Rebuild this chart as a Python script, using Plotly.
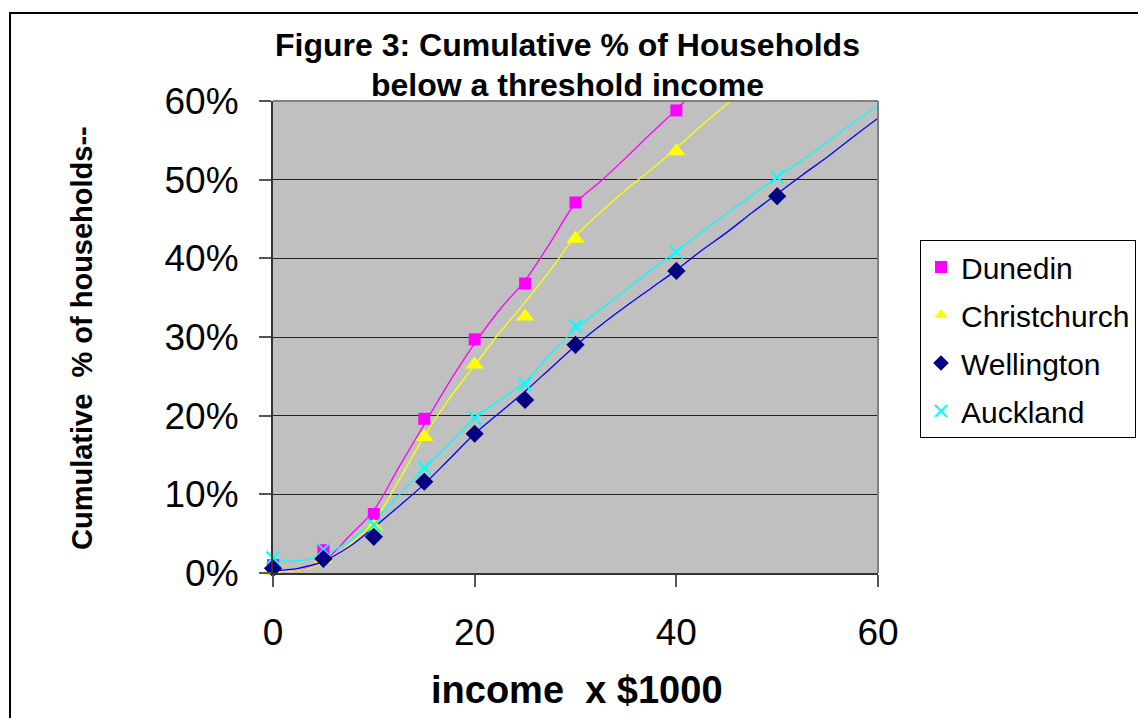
import plotly.graph_objects as go

# ---- survey points (income in $1000, cumulative % of households) ----
income_pts = [0, 5, 10, 15, 20, 25, 30, 40]
income_pts_long = [0, 5, 10, 15, 20, 25, 30, 40, 50]

dunedin_pts = [1.0, 2.9, 7.5, 19.6, 29.7, 36.8, 47.1, 58.8]
christchurch_pts = [0.3, 1.8, 5.9, 17.3, 26.5, 32.6, 42.5, 53.6]
wellington_pts = [0.6, 1.8, 4.6, 11.6, 17.7, 22.0, 29.0, 38.4, 47.9]
auckland_pts = [1.9, 3.0, 6.1, 13.4, 19.7, 24.0, 31.4, 40.8, 50.3]

# ---- smoothed distribution curves ----
dunedin_curve_x = [0, 2.5, 5, 7.5, 10, 12.5, 15, 17.5, 20, 22.5, 25, 27.5, 30,
                   32.5, 35, 37.5, 40, 41]
dunedin_curve_y = [0.2, 0.3, 1.5, 4.6, 8.0, 13.5, 18.9, 24.3, 29.2, 33.5, 37.2,
                   42.0, 47.0, 49.8, 52.8, 55.9, 58.9, 60.2]

christchurch_curve_x = [0, 2.5, 5, 7.5, 10, 12.5, 15, 17.5, 20, 22.5, 25, 27.5,
                        30, 32.5, 35, 37.5, 40, 42.5, 45.5]
christchurch_curve_y = [0.2, 0.3, 1.3, 3.5, 6.6, 11.8, 17.4, 22.2, 26.4, 30.6,
                        34.4, 38.5, 42.8, 45.9, 48.7, 51.3, 54.0, 56.9, 60.1]

wellington_curve_x = [0, 2.5, 5, 7.5, 10, 12.5, 15, 17.5, 20, 22.5, 25, 27.5, 30,
                      32.5, 35, 37.5, 40, 42.5, 45, 47.5, 50, 52.5, 55, 57.5, 60]
wellington_curve_y = [0.3, 0.6, 1.5, 3.3, 5.8, 8.5, 11.3, 14.5, 17.7, 20.4, 23.1,
                      26.0, 28.9, 31.5, 33.9, 36.2, 38.5, 41.0, 43.3, 45.8, 48.2,
                      50.6, 52.9, 55.4, 57.8]

auckland_curve_x = [0, 2, 5, 7.5, 10, 12.5, 15, 17.5, 20, 22.5, 25, 27.5, 30,
                    32.5, 35, 37.5, 40, 42.5, 45, 47.5, 50, 52.5, 55, 57.5, 60]
auckland_curve_y = [1.9, 1.5, 2.3, 4.0, 6.6, 9.9, 13.2, 16.5, 19.6, 22.0, 24.3,
                    27.8, 31.0, 33.5, 36.0, 38.5, 40.9, 43.3, 45.7, 48.0, 50.3,
                    52.5, 54.8, 57.2, 59.4]

x_ticks = [0, 20, 40, 60]
y_ticks = [0, 10, 20, 30, 40, 50, 60]
y_tick_labels = ["0%", "10%", "20%", "30%", "40%", "50%", "60%"]

FONT = "Liberation Sans, Arial, sans-serif"
W, H = 1138, 718
ML, MR, MT, MB = 273, 260, 101, 145


def px_x(p):
    return (p - ML) / (W - ML - MR)


def px_y(p):
    return (H - MB - p) / (H - MT - MB)


fig = go.Figure()

curves = [
    (dunedin_curve_x, dunedin_curve_y, "#FF00FF"),
    (christchurch_curve_x, christchurch_curve_y, "#FFFF00"),
    (wellington_curve_x, wellington_curve_y, "#0000FF"),
    (auckland_curve_x, auckland_curve_y, "#00FFFF"),
]
for cx, cy, col in curves:
    fig.add_trace(go.Scatter(
        x=cx, y=cy, mode="lines", line=dict(color=col, width=1.3, shape="spline"),
        showlegend=False, hoverinfo="skip", cliponaxis=True))

points = [
    ("Dunedin", income_pts, dunedin_pts,
     dict(symbol="square", size=12, color="#FF00FF"), 1),
    ("Christchurch", income_pts, christchurch_pts,
     dict(symbol="triangle-up", size=16, color="#FFFF00"), 2),
    ("Auckland", income_pts_long, auckland_pts,
     dict(symbol="x-thin-open", size=13, color="#00FFFF",
          line=dict(color="#00FFFF", width=2)), 4),
    ("Wellington", income_pts_long, wellington_pts,
     dict(symbol="diamond", size=14, color="#000080"), 3),
]
for name, xs, ys, mk, rank in points:
    fig.add_trace(go.Scatter(
        x=xs, y=ys, mode="markers", name=name, marker=mk,
        legendrank=rank, legendgroup=name, cliponaxis=False))

axis_col = "#333333"
fig.update_xaxes(
    range=[0, 60], tickvals=x_ticks, showgrid=False, zeroline=False,
    showline=True, linecolor=axis_col, linewidth=2,
    ticks="outside", ticklen=12, tickwidth=1.5, tickcolor="#555555",
    tickfont=dict(family=FONT, size=37, color="black"), ticklabelstandoff=14)
fig.update_yaxes(
    range=[0, 60], tickvals=y_ticks, ticktext=y_tick_labels, showgrid=True,
    gridcolor="#222222", gridwidth=1, zeroline=False,
    showline=True, linecolor=axis_col, linewidth=2,
    ticks="outside", ticklen=12, tickwidth=1.5, tickcolor="#555555",
    tickfont=dict(family=FONT, size=37, color="black"), ticklabelstandoff=13)

fig.update_layout(
    width=W, height=H,
    margin=dict(l=ML, r=MR, t=MT, b=MB, autoexpand=False),
    paper_bgcolor="white", plot_bgcolor="#C0C0C0",
    font=dict(family=FONT, color="black"),
    legend=dict(x=px_x(920), y=px_y(240), xanchor="left", yanchor="top",
                bgcolor="white", bordercolor="black", borderwidth=1,
                font=dict(family=FONT, size=30), tracegroupgap=6,
                itemsizing="constant"),
    shapes=[
        # chart frame
        dict(type="rect", xref="paper", yref="paper",
             x0=px_x(10), x1=px_x(1150), y0=px_y(730), y1=px_y(13),
             line=dict(color="black", width=2), layer="below"),
        # plot area top and right edges
        dict(type="line", xref="paper", yref="paper", x0=0, x1=1, y0=1, y1=1,
             line=dict(color="#808080", width=2)),
        dict(type="line", xref="paper", yref="paper", x0=1, x1=1, y0=0, y1=1,
             line=dict(color="#808080", width=2)),
    ],
    annotations=[
        dict(text="<b>Figure 3: Cumulative % of Households</b>", xref="paper",
             yref="paper", x=px_x(567), y=px_y(45), showarrow=False,
             font=dict(family=FONT, size=32), xanchor="center", yanchor="middle"),
        dict(text="<b>below a threshold income</b>", xref="paper",
             yref="paper", x=px_x(567), y=px_y(85), showarrow=False,
             font=dict(family=FONT, size=32), xanchor="center", yanchor="middle"),
        dict(text="<b>income  x $1000</b>", xref="paper", yref="paper",
             x=px_x(577), y=px_y(690), showarrow=False,
             font=dict(family=FONT, size=38), xanchor="center", yanchor="middle"),
        dict(text="<b>Cumulative  % of households--</b>", xref="paper",
             yref="paper", x=px_x(82), y=px_y(338), showarrow=False,
             textangle=-90, font=dict(family=FONT, size=29),
             xanchor="center", yanchor="middle"),
    ],
)

fig.write_html("out.html")
